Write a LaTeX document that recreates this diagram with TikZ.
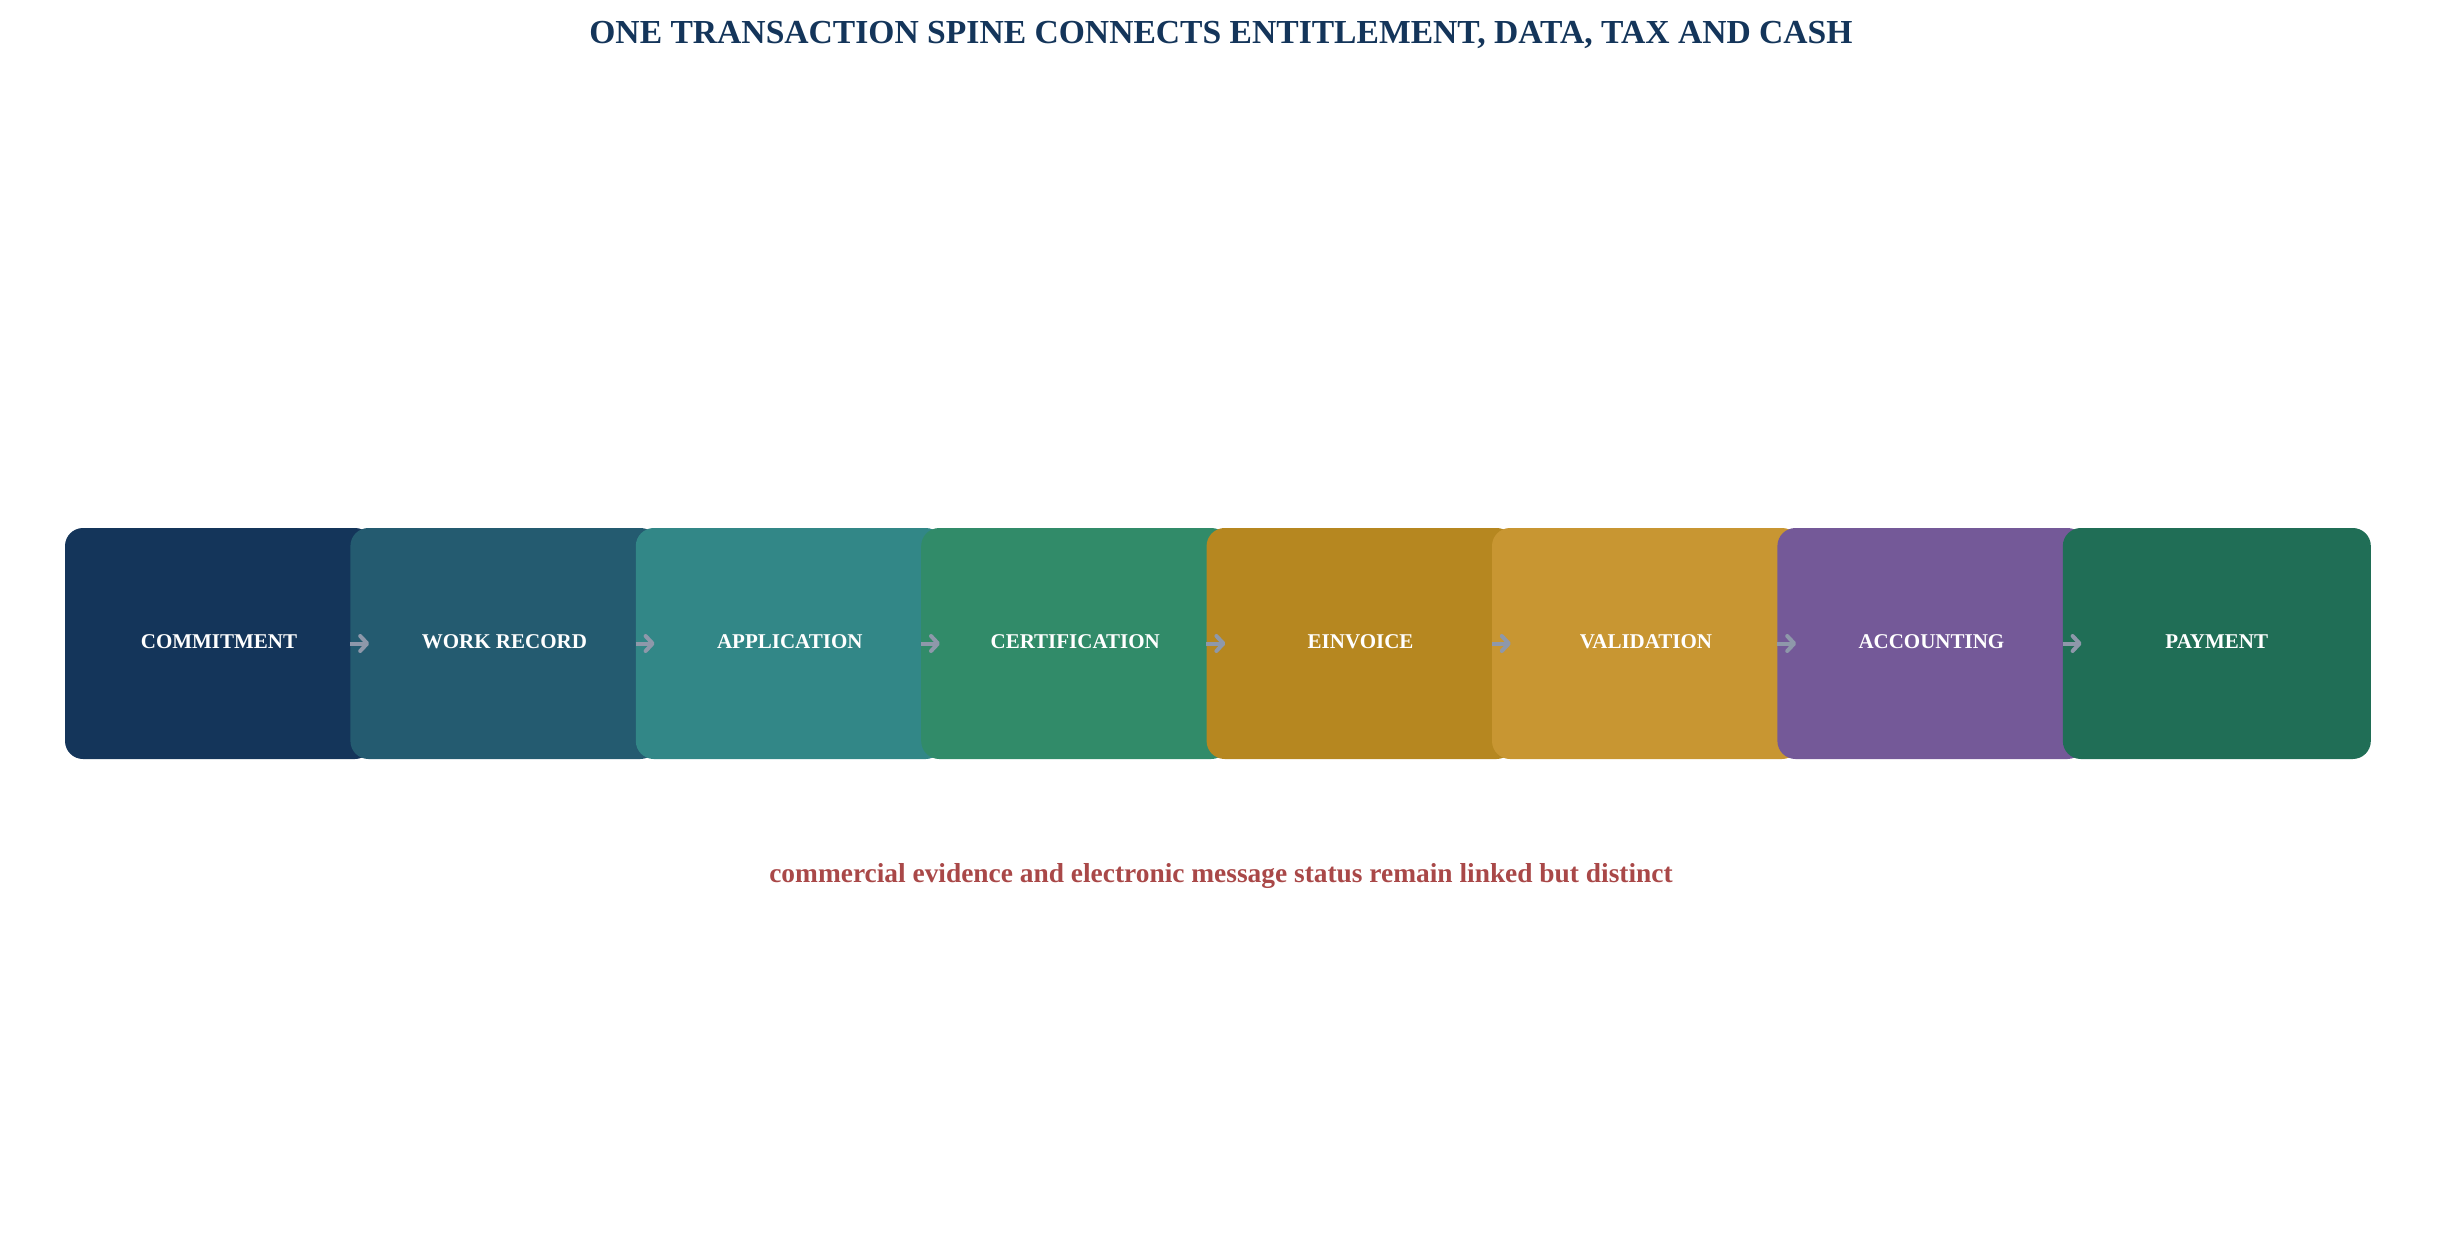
\documentclass[tikz,border=0pt]{standalone}
\usepackage{fontspec}
\setmainfont{Liberation Serif}
\usetikzlibrary{arrows.meta}
\definecolor{titlec}{HTML}{14355A}
\definecolor{c1}{HTML}{14355A}
\definecolor{c2}{HTML}{245B70}
\definecolor{c3}{HTML}{328787}
\definecolor{c4}{HTML}{318B69}
\definecolor{c5}{HTML}{B68720}
\definecolor{c6}{HTML}{C89632}
\definecolor{c7}{HTML}{745998}
\definecolor{c8}{HTML}{206E56}
\definecolor{arrc}{HTML}{8E98AA}
\definecolor{notec}{HTML}{A94848}
\begin{document}
\begin{tikzpicture}[x=1pt,y=-1pt,
  stagebox/.style={fill=#1, draw=none, rounded corners=18pt, minimum width=308pt, minimum height=231pt,
    inner sep=0pt, text=white, font=\fontsize{21}{25}\selectfont\bfseries, text height=14pt, text depth=5pt},
  flowarrow/.style={draw=arrc, line width=4pt, -{Straight Barb[length=7pt,width=15pt,line cap=round,line join=round]}}]
\useasboundingbox (0,0) rectangle (2441,1255);
\node[anchor=base, text=titlec, font=\fontsize{33.6}{40}\selectfont\bfseries] (title) at (1221,44) {ONE TRANSACTION SPINE CONNECTS ENTITLEMENT, DATA, TAX AND CASH};
\node[stagebox=c1] (b1) at (219,643.5) {COMMITMENT};
\node[stagebox=c2] (b2) at (504.4,643.5) {WORK RECORD};
\draw[flowarrow] (b2.west) -- ++(19,0);
\node[stagebox=c3] (b3) at (789.8,643.5) {APPLICATION};
\draw[flowarrow] (b3.west) -- ++(19,0);
\node[stagebox=c4] (b4) at (1075.2,643.5) {CERTIFICATION};
\draw[flowarrow] (b4.west) -- ++(19,0);
\node[stagebox=c5] (b5) at (1360.6,643.5) {EINVOICE};
\draw[flowarrow] (b5.west) -- ++(19,0);
\node[stagebox=c6] (b6) at (1646,643.5) {VALIDATION};
\draw[flowarrow] (b6.west) -- ++(19,0);
\node[stagebox=c7] (b7) at (1931.4,643.5) {ACCOUNTING};
\draw[flowarrow] (b7.west) -- ++(19,0);
\node[stagebox=c8] (b8) at (2216.8,643.5) {PAYMENT};
\draw[flowarrow] (b8.west) -- ++(19,0);
\node[anchor=base, text=notec, font=\fontsize{27.4}{32}\selectfont\bfseries] (note) at (1221,882) {commercial evidence and electronic message status remain linked but distinct};
\end{tikzpicture}
\end{document}
